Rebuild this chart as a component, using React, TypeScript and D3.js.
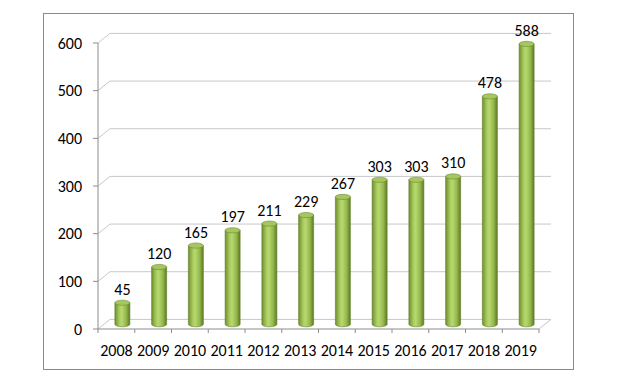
import React from "react";
import * as d3 from "d3";

const years = ["2008","2009","2010","2011","2012","2013","2014","2015","2016","2017","2018","2019"];
const values = [45,120,165,197,211,229,267,303,303,310,478,588];
const yTicks = [0,100,200,300,400,500,600];

export default function App() {
  const W = 617, H = 385;
  const x0 = 98, x1 = 539;
  const y0 = 329, yTop = 43;
  const dx = 12, dy = -9.6;
  const x = d3.scaleBand<string>().domain(years).range([x0, x1]).padding(0);
  const y = d3.scaleLinear().domain([0, 600]).range([y0, yTop]);
  const bw = 15, ry = 2.6;
  const font = "Carlito, Calibri, 'Liberation Sans', Arial, sans-serif";
  const fs = 16;
  const grid = "#c8c8c8";
  const axis = "#8c8c8c";
  return (
    <div style={{ margin: -8 }}>
      <svg width={W} height={H} style={{ display: "block" }}>
        <defs>
          <linearGradient id="cyl" x1="0" x2="1" y1="0" y2="0">
            <stop offset="0" stopColor="#6f8f2e" />
            <stop offset="0.3" stopColor="#a9cc5e" />
            <stop offset="0.45" stopColor="#b8d871" />
            <stop offset="0.75" stopColor="#94b84b" />
            <stop offset="1" stopColor="#5d7a24" />
          </linearGradient>
        </defs>
        <rect x={0} y={0} width={W} height={H} fill="#fff" />
        <rect x={43.5} y={13.5} width={530} height={356} fill="#fff" stroke="#8a8a8a" strokeWidth={1} />
        {yTicks.map(t => {
          const yy = y(t);
          return (
            <g key={t}>
              <polyline points={`${x0},${yy} ${x0 + dx},${yy + dy} ${x1 + dx},${yy + dy}`} fill="none" stroke={grid} strokeWidth={1} />
              <line x1={x0 - 5} x2={x0} y1={yy} y2={yy} stroke={axis} />
              <text x={82} y={yy + 5.5} textAnchor="end" fontFamily={font} fontSize={fs} fill="#000">{t}</text>
            </g>
          );
        })}
        <line x1={x1} y1={y0} x2={x1 + dx} y2={y0 + dy} stroke={grid} />
        <line x1={x0} y1={yTop} x2={x0} y2={y0} stroke={axis} />
        <line x1={x0} y1={y0} x2={x1} y2={y0} stroke={axis} />
        {years.map((yr) => (
          <line key={"t" + yr} x1={x(yr)!} x2={x(yr)!} y1={y0} y2={y0 + 4} stroke={axis} />
        ))}
        <line x1={x1} x2={x1} y1={y0} y2={y0 + 4} stroke={axis} />
        {years.map((yr, i) => {
          const cx = x(yr)! + x.bandwidth() / 2 + dx / 2;
          const base = y(0) + dy / 2;
          const top = y(values[i]) + dy / 2;
          return (
            <g key={yr}>
              <path
                d={`M${cx - bw / 2},${top} L${cx - bw / 2},${base} A${bw / 2},${ry} 0 0 0 ${cx + bw / 2},${base} L${cx + bw / 2},${top} Z`}
                fill="url(#cyl)" stroke="#5f7d28" strokeWidth={0.6}
              />
              <ellipse cx={cx} cy={top} rx={bw / 2} ry={ry} fill="#a6c75f" stroke="#6d8c30" strokeWidth={0.6} />
              <text x={cx} y={top - 8} textAnchor="middle" fontFamily={font} fontSize={fs} fill="#000">{values[i]}</text>
              <text x={x(yr)! + x.bandwidth() / 2} y={355.5} textAnchor="middle" fontFamily={font} fontSize={fs} fill="#000">{yr}</text>
            </g>
          );
        })}
      </svg>
    </div>
  );
}
